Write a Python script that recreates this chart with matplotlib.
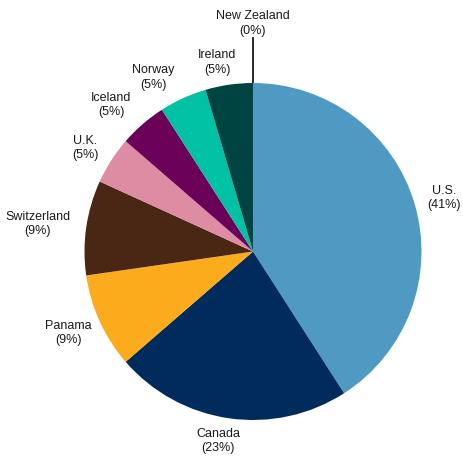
import matplotlib
matplotlib.use("Agg")
import matplotlib.pyplot as plt

plt.rcParams['font.family'] = ['Liberation Sans', 'DejaVu Sans']

countries = ["U.S.", "Canada", "Panama", "Switzerland", "U.K.", "Iceland", "Norway", "Ireland", "New Zealand"]
counts = [9, 5, 2, 2, 1, 1, 1, 1, 0]
pct_labels = ["41%", "23%", "9%", "9%", "5%", "5%", "5%", "5%", "0%"]
colors = ["#4F9AC3", "#002B5C", "#FCAB1C", "#4A2614", "#DE8BA4", "#6A0058", "#00C1A3", "#004441", "#000000"]

# layout (pixel positions of label centres)
W, H = 463, 457
cx, cy, R = 253, 251.5, 168.5
label_px = [(444, 198), (218, 441), (68, 333), (38, 224), (85, 148),
            (111, 105), (153, 77.5), (217, 62.5), (253, 23.5)]

fig = plt.figure(figsize=(W / 100, H / 100), dpi=100)
ax = fig.add_axes([0, 0, 1, 1])

ax.pie(counts, colors=colors, startangle=90, counterclock=False, radius=1,
       wedgeprops=dict(linewidth=0))
ax.set_aspect("auto")
ax.set_xlim(-cx / R, (W - cx) / R)
ax.set_ylim(-(H - cy) / R, cy / R)
ax.axis("off")

for name, p, (px, py) in zip(countries, pct_labels, label_px):
    x = (px - cx) / R
    y = (cy - py) / R
    ax.text(x, y, f"{name}\n({p})", ha="center", va="center", fontsize=9,
            color="#1a1a1a", linespacing=1.25)

# leader line for New Zealand (zero share)
ax.plot([0, 0], [1, 1 + 46 / R], color="#1a1a1a", lw=1.3, solid_capstyle="butt")

fig.savefig("out.png", dpi=100)
